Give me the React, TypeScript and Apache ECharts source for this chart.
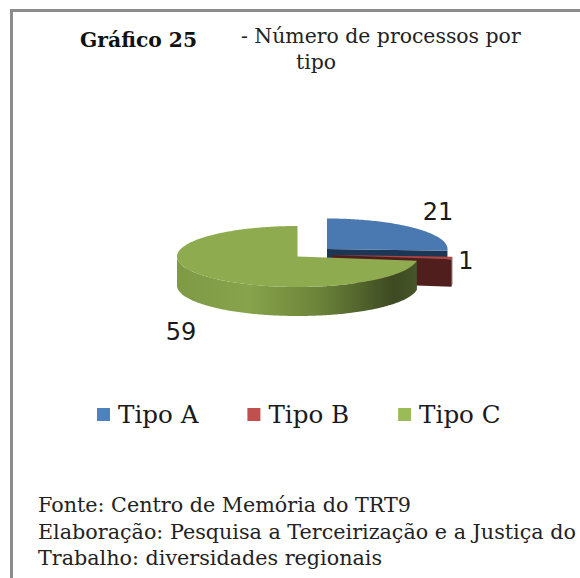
import React, { useEffect, useRef } from "react";
import * as echarts from "echarts";

const categories = ["Tipo A", "Tipo B", "Tipo C"];
const values = [21, 1, 59];
const titleBold = "Gráfico 25";
const titleLines = ["- Número de processos por", "tipo"];
const footerLines = [
  "Fonte: Centro de Memória do TRT9",
  "Elaboração: Pesquisa a Terceirização e a Justiça do",
  "Trabalho: diversidades regionais",
];
const legendColors = ["#4f81bd", "#c0504d", "#9bbb59"];

const FONT = '"DejaVu Serif"';
const RX = 120.5;
const RY = 30.5;
const total = values.reduce((a, b) => a + b, 0);

const sliceStyle = [
  { cx: 327, cy: 249, depth: 27.5, top: "#4a78b0", wall: "#1c3655", side: "#1c3655", lx: 438, ly: 212 },
  { cx: 332, cy: 255, depth: 27.5, top: "#b2443f", wall: "#501f1d", side: "#501f1d", lx: 466, ly: 261 },
  { cx: 297.5, cy: 256.5, depth: 29, top: "#8eab50", wall: "#3e4a22", side: "", lx: 181, ly: 332 },
];

const pt = (cx: number, cy: number, deg: number, dy = 0) => {
  const r = (deg * Math.PI) / 180;
  return [cx + RX * Math.sin(r), cy - RY * Math.cos(r) + dy];
};

const arcPts = (cx: number, cy: number, a0: number, a1: number, dy = 0) => {
  const out: number[][] = [];
  const n = Math.max(2, Math.ceil(Math.abs(a1 - a0)));
  for (let i = 0; i <= n; i++) out.push(pt(cx, cy, a0 + ((a1 - a0) * i) / n, dy));
  return out;
};

function renderSlice(index: number, startValue: number) {
  return (_params: any, api: any) => {
    const v = api.value(0);
    const a0 = (startValue / total) * 360;
    const a1 = ((startValue + v) / total) * 360;
    const s = sliceStyle[index];
    const DEPTH = s.depth;
    const children: any[] = [];
    const end = pt(s.cx, s.cy, a1);
    // radial wall at the slice's closing edge when it faces the viewer
    if (a1 < 180) {
      children.push({
        type: "polygon",
        shape: { points: [[s.cx, s.cy], end, [end[0], end[1] + DEPTH], [s.cx, s.cy + DEPTH]] },
        style: { fill: s.wall },
      });
    }
    // outer wall: the part of the arc on the near half
    const w0 = Math.max(a0, 90);
    const w1 = Math.min(a1, 270);
    if (w1 > w0) {
      const upper = arcPts(s.cx, s.cy, w0, w1);
      const lower = arcPts(s.cx, s.cy, w1, w0, DEPTH);
      const fill =
        index === 2
          ? new echarts.graphic.LinearGradient(1, 0, 0, 0, [
              { offset: 0, color: "#46552a" },
              { offset: 0.1, color: "#3e4a22" },
              { offset: 0.4, color: "#6b8239" },
              { offset: 0.7, color: "#87a34b" },
              { offset: 1, color: "#7f9a45" },
            ])
          : s.side;
      children.push({
        type: "polygon",
        shape: { points: [...upper, ...lower] },
        style: { fill },
      });
    }
    // top face
    children.push({
      type: "polygon",
      shape: { points: [[s.cx, s.cy], ...arcPts(s.cx, s.cy, a0, a1)] },
      style: { fill: s.top },
    });
    children.push({
      type: "text",
      style: {
        text: String(v),
        x: s.lx,
        y: s.ly,
        align: "center",
        verticalAlign: "middle",
        fill: "#1a1a1a",
        fontSize: 24,
        fontFamily: "DejaVu Sans",
      },
    });
    return { type: "group", children };
  };
}

export default function App() {
  const ref = useRef<HTMLDivElement>(null);
  useEffect(() => {
    const chart = echarts.init(ref.current!, undefined, { renderer: "svg" });
    let cum = 0;
    const series = categories.map((name, i) => {
      const start = cum;
      cum += values[i];
      return {
        type: "custom",
        name,
        coordinateSystem: "none",
        data: [[values[i]]],
        renderItem: renderSlice(i, start),
        itemStyle: { color: legendColors[i] },
        silent: true,
      };
    });
    chart.setOption({
      animation: false,
      backgroundColor: "#ffffff",
      color: legendColors,
      legend: {
        data: categories.map((name) => ({ name, icon: "rect", itemStyle: { color: legendColors[categories.indexOf(name)] } })),
        left: 92,
        top: 397,
        itemWidth: 13,
        itemHeight: 13,
        itemGap: 49,
        selectedMode: false,
        textStyle: { fontFamily: FONT, fontSize: 24.6, color: "#1a1a1a", padding: [0, 0, 0, 3] },
      },
      graphic: [
        { type: "rect", shape: { x: 10, y: 9, width: 570, height: 3 }, style: { fill: "#8c8c8c" } },
        { type: "rect", shape: { x: 10, y: 9, width: 3, height: 569 }, style: { fill: "#8c8c8c" } },
        {
          type: "text", x: 80, y: 40,
          style: { text: titleBold, fontFamily: FONT, fontWeight: "bold", fontSize: 20.3, fill: "#111", verticalAlign: "middle" },
        },
        {
          type: "text", x: 241, y: 36,
          style: { text: titleLines[0], fontFamily: FONT, fontSize: 20.4, fill: "#222", verticalAlign: "middle" },
        },
        {
          type: "text", x: 296, y: 62,
          style: { text: titleLines[1], fontFamily: FONT, fontSize: 20.4, fill: "#222", verticalAlign: "middle" },
        },
        ...footerLines.map((t, i) => ({
          type: "text", x: 38, y: 505 + i * 26.5,
          style: { text: t, fontFamily: FONT, fontSize: 20.7, fill: "#222", verticalAlign: "middle" },
        })),
      ],
      series,
    });
    return () => chart.dispose();
  }, []);
  return <div ref={ref} style={{ position: "absolute", left: 0, top: 0, width: 580, height: 578 }} />;
}
